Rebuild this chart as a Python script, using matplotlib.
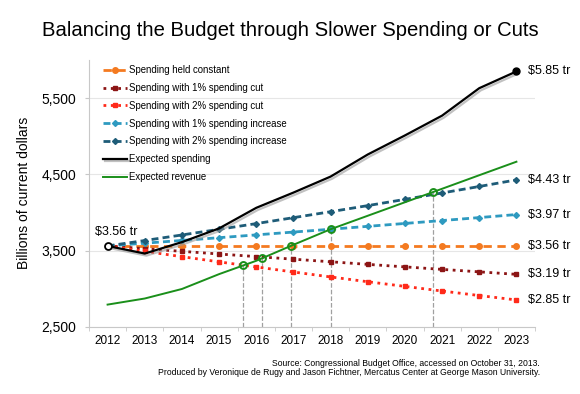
import matplotlib
matplotlib.use('Agg')

import matplotlib.pyplot as plt
import matplotlib.patheffects as pe
import numpy as np

plt.rcParams['font.family'] = ['Liberation Sans', 'DejaVu Sans']

years = list(range(2012, 2024))
held_constant = [3560] * 12
cut_1pct = [3560, 3524, 3489, 3454, 3420, 3386, 3352, 3318, 3285, 3252, 3220, 3187]
cut_2pct = [3560, 3489, 3419, 3351, 3284, 3218, 3153, 3090, 3029, 2968, 2909, 2851]
inc_1pct = [3560, 3596, 3632, 3668, 3705, 3742, 3779, 3817, 3855, 3893, 3932, 3972]
inc_2pct = [3560, 3631, 3704, 3778, 3853, 3931, 4009, 4089, 4171, 4255, 4340, 4427]
spending = [3560, 3460, 3610, 3790, 4060, 4260, 4470, 4760, 5010, 5270, 5630, 5850]
revenue = [2790, 2870, 2995, 3190, 3365, 3575, 3779, 3956, 4133, 4310, 4488, 4665]
# years where revenue crosses each spending path
cross_years = [2015.65, 2016.16, 2016.93, 2018.0, 2020.76]

end_labels = ['$5.85 tr', '$4.43 tr', '$3.97 tr', '$3.56 tr', '$3.19 tr', '$2.85 tr']
end_series = [spending, inc_2pct, inc_1pct, held_constant, cut_1pct, cut_2pct]

c_orange = '#F47A20'
c_dred = '#8C1515'
c_red = '#FF2A1A'
c_teal = '#2E9AC0'
c_dteal = '#1E5C78'
c_green = '#1A8F1A'

fig = plt.figure(figsize=(5.8, 3.94), dpi=100)
ax = fig.add_axes([89/580, 1-326.7/394, (535-89)/580, (326.7-60)/394])

ax.plot(years, held_constant, color=c_orange, lw=2, dashes=(3, 2), marker='o', ms=4,
        label='Spending held constant', zorder=3)
ax.plot(years, cut_1pct, color=c_dred, lw=2, linestyle=':', marker='s', ms=3.5,
        label='Spending with 1% spending cut', zorder=3)
ax.plot(years, cut_2pct, color=c_red, lw=2, linestyle=':', marker='s', ms=3.5,
        label='Spending with 2% spending cut', zorder=3)
ax.plot(years, inc_1pct, color=c_teal, lw=2, dashes=(2.5, 1.5), marker='D', ms=3,
        label='Spending with 1% spending increase', zorder=3)
ax.plot(years, inc_2pct, color=c_dteal, lw=2, dashes=(2.5, 1.5), marker='D', ms=3,
        label='Spending with 2% spending increase', zorder=3)
ax.plot(years, spending, color='black', lw=1.6, label='Expected spending', zorder=5,
        path_effects=[pe.SimpleLineShadow(offset=(1.2, -1.5), shadow_color='#999999', alpha=0.6),
                      pe.Normal()])
ax.plot(years, revenue, color=c_green, lw=1.4, label='Expected revenue', zorder=4)

# end markers on the spending line
ax.plot(years[0], spending[0], 'o', ms=5, mfc='white', mec='black', mew=1.3, zorder=6)
ax.plot(years[-1], spending[-1], 'o', ms=5, color='black', zorder=6)

# crossover points and drop lines
cross_vals = np.interp(cross_years, years, revenue)
ax.vlines(cross_years, 2500, cross_vals, colors='#A0A0A0', linestyles='--', lw=0.9, zorder=2)
ax.plot(cross_years, cross_vals, 'o', ms=5, mfc='none', mec=c_green, mew=1.4, zorder=6)

for lab, ser in zip(end_labels, end_series):
    ax.annotate(lab, xy=(years[-1], ser[-1]), xytext=(8, 0), textcoords='offset points',
                va='center', ha='left', fontsize=9)
ax.annotate('$3.56 tr', xy=(years[0], spending[0]), xytext=(6, 10), textcoords='offset points',
            va='center', ha='center', fontsize=9)

ax.set_xlim(2011.5, 2023.5)
ax.set_ylim(2500, 6000)
ax.set_xticks(years)
ax.set_xticks(np.arange(2011.5, 2024, 1), minor=True)
ax.set_yticks([2500, 3500, 4500, 5500])
ax.set_yticklabels(['2,500', '3,500', '4,500', '5,500'])
ax.tick_params(axis='x', which='major', length=0, labelsize=8.5, pad=6)
ax.tick_params(axis='x', which='minor', length=3, color='#C8C8C8')
ax.tick_params(axis='y', length=3, color='#C8C8C8', labelsize=10, pad=6)
ax.grid(axis='y', color='#E6E6E6', lw=0.8)
ax.set_axisbelow(True)
for s in ['top', 'right']:
    ax.spines[s].set_visible(False)
for s in ['left', 'bottom']:
    ax.spines[s].set_color('#C8C8C8')
ax.set_ylabel('Billions of current dollars', fontsize=10, labelpad=8)

ax.legend(loc='upper left', bbox_to_anchor=(103/580, 1-65/394), bbox_transform=fig.transFigure,
          frameon=False, fontsize=6.9, handlelength=2.5, handletextpad=0.2, labelspacing=0.82,
          borderpad=0, borderaxespad=0, numpoints=1)

fig.text(0.5, 1-30/394, 'Balancing the Budget through Slower Spending or Cuts', ha='center',
         va='center', fontsize=14.6)
fig.text(540/580, 1-363/394, 'Source: Congressional Budget Office, accessed on October 31, 2013.',
         ha='right', va='center', fontsize=6.2)
fig.text(540/580, 1-372.5/394,
         'Produced by Veronique de Rugy and Jason Fichtner, Mercatus Center at George Mason University.',
         ha='right', va='center', fontsize=6.2)

plt.savefig('out.png', dpi=100)
